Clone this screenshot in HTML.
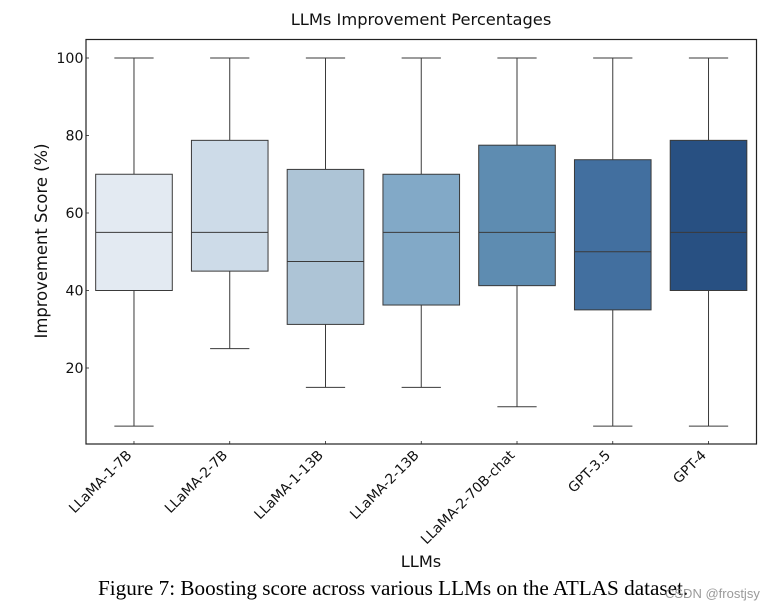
<!DOCTYPE html>
<html lang="en">
<head>
<meta charset="utf-8">
<title>LLMs Improvement Percentages</title>
<style>
html,body{margin:0;padding:0;background:#fff;width:774px;height:610px;overflow:hidden}
svg{display:block}
text{font-family:"DejaVu Sans",sans-serif;fill:#111}
</style>
</head>
<body>
<svg id="chart" width="774" height="610" viewBox="0 0 774 610" xmlns="http://www.w3.org/2000/svg">
  <text x="421" y="25" font-size="16.3" text-anchor="middle">LLMs Improvement Percentages</text>
  <text transform="translate(47,241) rotate(-90)" font-size="16.4" text-anchor="middle">Improvement Score (%)</text>
  <text x="421" y="567" font-size="16.2" text-anchor="middle">LLMs</text>
  <g id="marks"></g>
  <rect x="86" y="39.5" width="670.5" height="404.5" fill="none" stroke="#222" stroke-width="1.2"></rect>
  <g id="axes"></g>
  <text x="98" y="595" font-size="21.2" style="font-family:'Liberation Serif',serif;fill:#000">Figure 7: Boosting score across various LLMs on the ATLAS dataset.</text>
  <text x="665" y="598" font-size="13" style="font-family:'Liberation Sans',sans-serif;fill:#888;fill-opacity:.85">CSDN @frostjsy</text>
</svg>
<script>
const categories = ['LLaMA-1-7B', 'LLaMA-2-7B', 'LLaMA-1-13B', 'LLaMA-2-13B', 'LLaMA-2-70B-chat', 'GPT-3.5', 'GPT-4'];
const whiskerLow = [5, 25, 15, 15, 10, 5, 5];
const whiskerHigh = [100, 100, 100, 100, 100, 100, 100];
const q1 = [40, 45, 31.25, 36.25, 41.25, 35, 40];
const q3 = [70, 78.75, 71.25, 70, 77.5, 73.75, 78.75];
const medians = [55, 55, 47.5, 55, 55, 50, 55];
const boxColors = ['#e3eaf2', '#cddbe8', '#adc4d6', '#82a9c7', '#5e8cb1', '#426f9f', '#285082'];
const yTicks = [20, 40, 60, 80, 100];

const plotLeft = 86.1, plotRight = 756.4;
const NS = 'http://www.w3.org/2000/svg';
const band = (plotRight - plotLeft) / categories.length;
const xScale = i => plotLeft + band * (i + 0.5);
const yScale = v => 58 + (100 - v) * 3.875;
const marks = document.getElementById('marks');
const axes = document.getElementById('axes');
const LINE = '#3a3a3a';

function make(parent, tag, attrs) {
  const el = document.createElementNS(NS, tag);
  for (const k in attrs) el.setAttribute(k, attrs[k]);
  parent.appendChild(el);
  return el;
}

categories.forEach((name, i) => {
  const cx = xScale(i), boxW = band * 0.8, capW = band * 0.41;
  const lineStyle = { stroke: LINE, 'stroke-width': 1, fill: 'none' };

  const wl = make(marks, 'line', { x1: cx, x2: cx, y1: yScale(q1[i]), y2: yScale(whiskerLow[i]), ...lineStyle });
  
  

  const wh = make(marks, 'line', { x1: cx, x2: cx, y1: yScale(q3[i]), y2: yScale(whiskerHigh[i]), ...lineStyle });
  
  

  const cl = make(marks, 'line', { x1: cx - capW / 2, x2: cx + capW / 2, y1: yScale(whiskerLow[i]), y2: yScale(whiskerLow[i]), ...lineStyle });
  
  

  const ch = make(marks, 'line', { x1: cx - capW / 2, x2: cx + capW / 2, y1: yScale(whiskerHigh[i]), y2: yScale(whiskerHigh[i]), ...lineStyle });
  
  

  const box = make(marks, 'rect', { x: cx - boxW / 2, y: yScale(q3[i]), width: boxW, height: yScale(q1[i]) - yScale(q3[i]), fill: boxColors[i], stroke: LINE, 'stroke-width': 1 });
  
  

  const med = make(marks, 'line', { x1: cx - boxW / 2, x2: cx + boxW / 2, y1: yScale(medians[i]), y2: yScale(medians[i]), ...lineStyle });
  
  

  const tick = make(axes, 'line', { x1: cx, x2: cx, y1: 444, y2: 441, stroke: '#222', 'stroke-width': 0.8 });
  
  

  const label = make(axes, 'text', { transform: 'translate(' + (cx - 1.5) + ',456) rotate(-45)', 'font-size': 13.8, 'text-anchor': 'end' });
  
  
  label.textContent = name;
});

yTicks.forEach(v => {
  const tick = make(axes, 'line', { x1: 86, x2: 89, y1: yScale(v), y2: yScale(v), stroke: '#222', 'stroke-width': 0.8 });
  
  

  const label = make(axes, 'text', { x: 83.5, y: yScale(v) + 5, 'font-size': 14.2, 'text-anchor': 'end' });
  
  
  label.textContent = v;
});
</script>
</body>
</html>
